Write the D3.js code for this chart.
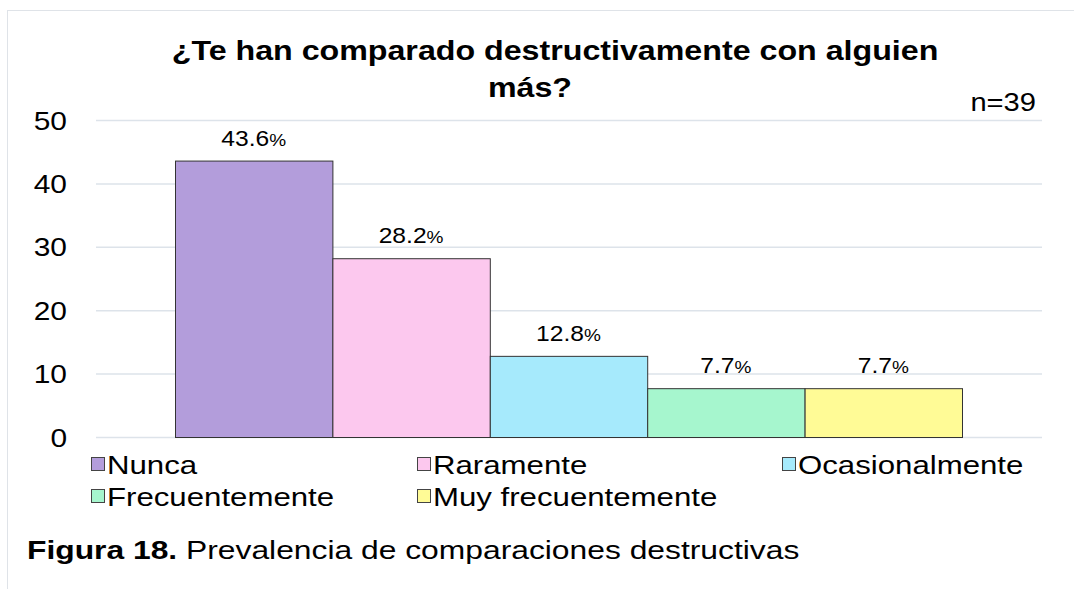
<!DOCTYPE html>
<html>
<head>
<meta charset="utf-8">
<script src="https://cdn.jsdelivr.net/npm/d3@7"></script>
<style>
  body { margin: 0; background: #fff; }
  text { font-family: "Liberation Sans", Arial, sans-serif; fill: #000; }
</style>
</head>
<body>
<svg></svg>
<script>
let width = 1074
let height = 589

// data
let categories = ['Nunca', 'Raramente', 'Ocasionalmente', 'Frecuentemente', 'Muy frecuentemente']
let values = [43.6, 28.2, 12.8, 7.7, 7.7]
let colors = ['#b39ddb', '#fcc8ee', '#a6eafc', '#a6f6ce', '#fffb96']
let yTicks = [0, 10, 20, 30, 40, 50]

// text in the reference is stretched horizontally
let sx = 1.2

let svg = d3.select('svg')
    .attr('width', width)
    .attr('height', height)

// outer frame
svg.append('rect')
    .attr('x', 7.5).attr('y', 10.5)
    .attr('width', width + 20).attr('height', height)
    .attr('fill', 'none')
    .attr('stroke', '#dfe3e8')

let xScale = d3.scaleBand()
    .domain(categories)
    .range([175, 962])

let yScale = d3.scaleLinear()
    .domain([0, 50])
    .range([437, 120])

// gridlines
let yAxis = d3.axisLeft(yScale)
    .tickValues(yTicks)
    .tickSize(-(1042 - 96))
    .tickFormat('')

svg.append('g')
    .attr('transform', 'translate(96, 0)')
    .call(yAxis)
    .call(g => g.select('.domain').remove())
    .call(g => g.selectAll('line').attr('stroke', '#dde3ea').attr('stroke-width', 1.5))

// tick labels
svg.append('g')
  .selectAll('text')
  .data(yTicks)
  .enter()
  .append('text')
    .attr('transform', d => `translate(67, ${yScale(d) + 9.5}) scale(1.15,1)`)
    .style('text-anchor', 'end')
    .style('font-size', '26px')
    .text(d => d)

// bars
svg.append('g')
  .selectAll('rect')
  .data(values)
  .enter()
  .append('rect')
    .attr('x', (d, i) => xScale(categories[i]) + 0.5)
    .attr('y', d => yScale(d) + 0.5)
    .attr('width', xScale.bandwidth())
    .attr('height', d => yScale(0) - yScale(d))
    .attr('fill', (d, i) => colors[i])
    .attr('stroke', '#333')
    .attr('stroke-width', 1)

// data labels
let labels = svg.append('g')
  .selectAll('text')
  .data(values)
  .enter()
  .append('text')
    .attr('transform', (d, i) => `translate(${xScale(categories[i]) + xScale.bandwidth() / 2}, ${yScale(d) - 15}) scale(1.12,1)`)
    .style('text-anchor', 'middle')
    .style('font-size', '22px')

labels.append('tspan').text(d => d.toFixed(1))
labels.append('tspan').style('font-size', '17px').text('%')

// title
svg.append('text')
    .attr('transform', `translate(555, 60) scale(1.15,1)`)
    .style('text-anchor', 'middle')
    .style('font-size', '28px')
    .style('font-weight', 'bold')
    .text('¿Te han comparado destructivamente con alguien')

svg.append('text')
    .attr('transform', `translate(530, 97) scale(1.15,1)`)
    .style('text-anchor', 'middle')
    .style('font-size', '28px')
    .style('font-weight', 'bold')
    .text('más?')

svg.append('text')
    .attr('transform', `translate(1036, 111) scale(1.12,1)`)
    .style('text-anchor', 'end')
    .style('font-size', '26px')
    .text('n=39')

// legend
let legendPos = [[91, 474], [417, 474], [782, 474], [91, 506], [417, 506]]

let legend = svg.append('g')
  .selectAll('g')
  .data(categories)
  .enter()
  .append('g')
    .attr('transform', (d, i) => `translate(${legendPos[i][0]}, ${legendPos[i][1]})`)

legend.append('rect')
    .attr('x', 0.5).attr('y', -16.5)
    .attr('width', 13).attr('height', 13)
    .attr('fill', (d, i) => colors[i])
    .attr('stroke', '#444')

legend.append('text')
    .attr('transform', `translate(16, 0) scale(${sx},1)`)
    .style('font-size', '26px')
    .text(d => d)

// caption
let caption = svg.append('text')
    .attr('transform', `translate(27, 559) scale(${sx},1)`)
    .style('font-size', '26.5px')

caption.append('tspan').style('font-weight', 'bold').text('Figura 18.')
caption.append('tspan').text(' Prevalencia de comparaciones destructivas')
</script>
</body>
</html>
